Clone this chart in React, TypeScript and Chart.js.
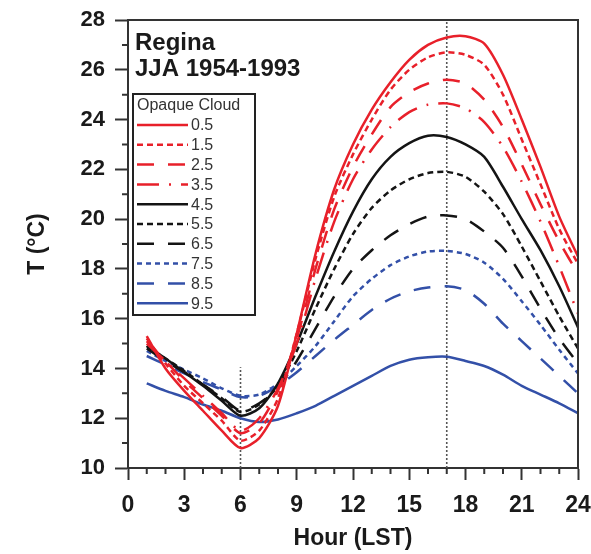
import React, { useEffect, useRef } from "react";
import { Chart, registerables } from "chart.js";

Chart.register(...registerables);

// ---- data ----
const hours = [1, 2, 3, 4, 5, 6, 7, 8, 9, 10, 11, 12, 13, 14, 15, 16, 17, 18, 19, 20, 21, 22, 23, 24];

const cloud05 = [15.3, 14.0, 13.1, 12.3, 11.5, 10.8, 11.2, 12.5, 15.4, 18.6, 21.2, 23.0, 24.4, 25.5, 26.4, 27.0, 27.3, 27.35, 27.05, 25.8, 24.0, 22.1, 20.1, 18.5];
const cloud15 = [15.2, 14.2, 13.3, 12.6, 11.9, 11.1, 11.5, 12.8, 15.4, 18.4, 20.9, 22.6, 24.0, 25.2, 26.0, 26.5, 26.7, 26.6, 26.2, 25.0, 23.2, 21.4, 19.6, 18.2];
const cloud25 = [15.1, 14.3, 13.5, 12.8, 12.1, 11.4, 11.8, 13.1, 15.2, 18.0, 20.4, 22.1, 23.4, 24.5, 25.1, 25.45, 25.6, 25.45, 24.8, 23.7, 22.2, 20.6, 19.1, 17.8];
const cloud35 = [15.0, 14.3, 13.6, 12.9, 12.2, 11.5, 12.0, 13.2, 15.0, 17.6, 19.9, 21.6, 22.8, 23.7, 24.3, 24.6, 24.65, 24.45, 23.9, 22.9, 21.5, 19.9, 18.1, 16.2];
const cloud45 = [14.9, 14.4, 13.85, 13.3, 12.7, 12.1, 12.4, 13.4, 15.0, 16.9, 18.7, 20.3, 21.6, 22.5, 23.05, 23.35, 23.3, 23.0, 22.5, 21.3, 20.0, 18.75, 17.3, 15.65];
const cloud55 = [14.9, 14.4, 13.9, 13.35, 12.8, 12.25, 12.55, 13.3, 14.7, 16.4, 18.0, 19.4, 20.45, 21.15, 21.6, 21.85, 21.9, 21.7, 21.1, 20.2, 18.9, 17.5, 16.1, 14.8];
const cloud65 = [14.8, 14.3, 13.85, 13.35, 12.85, 12.3, 12.6, 13.2, 14.3, 15.6, 16.9, 18.0, 18.75, 19.35, 19.8, 20.1, 20.15, 20.0, 19.5, 18.85, 17.7, 16.4, 15.2, 14.2];
const cloud75 = [14.7, 14.3, 13.95, 13.6, 13.2, 12.9, 12.95, 13.4, 14.1, 14.9, 15.9, 16.9, 17.6, 18.15, 18.5, 18.7, 18.72, 18.6, 18.25, 17.6, 16.7, 15.75, 14.75, 13.8];
const cloud85 = [14.5, 14.15, 13.8, 13.45, 13.15, 12.85, 12.9, 13.3, 13.85, 14.5, 15.15, 15.75, 16.35, 16.8, 17.1, 17.25, 17.3, 17.15, 16.6, 15.8, 15.1, 14.4, 13.7, 13.0];
const cloud95 = [13.4, 13.1, 12.85, 12.55, 12.3, 12.0, 11.85, 11.95, 12.2, 12.5, 12.9, 13.3, 13.7, 14.1, 14.35, 14.45, 14.47, 14.3, 14.1, 13.75, 13.3, 12.95, 12.6, 12.2];

const series = [cloud05, cloud15, cloud25, cloud35, cloud45, cloud55, cloud65, cloud75, cloud85, cloud95];
const seriesLabels = ["0.5", "1.5", "2.5", "3.5", "4.5", "5.5", "6.5", "7.5", "8.5", "9.5"];

const refHours = [6, 17];
const refLow = [10, 10];
const refHigh = [14.05, 28];

const titleLines = ["Regina", "JJA 1954-1993"];
const legendTitle = "Opaque Cloud";
const xTitle = "Hour (LST)";
const yTitle = "T (\u00B0C)";

export default function App() {
  const ref = useRef<HTMLCanvasElement>(null);

  useEffect(() => {
    const canvas = ref.current;
    if (!canvas) return;
    const FONT = "'Liberation Sans', Arial, sans-serif";
    const RED = "#e8202a";
    const BLACK = "#141414";
    const BLUE = "#3350a8";
    const AXIS = "#333333";

    const styles = [
      { color: RED, dash: [] as number[] },
      { color: RED, dash: [6, 4] },
      { color: RED, dash: [17, 14] },
      { color: RED, dash: [22, 10, 2, 10] },
      { color: BLACK, dash: [] as number[] },
      { color: BLACK, dash: [6, 4] },
      { color: BLACK, dash: [17, 14] },
      { color: BLUE, dash: [5, 4] },
      { color: BLUE, dash: [17, 14] },
      { color: BLUE, dash: [] as number[] },
    ];

    const datasets: any[] = series.map((vals, i) => ({
      label: seriesLabels[i],
      data: hours.map((h, j) => ({ x: h, y: vals[j] })),
      borderColor: styles[i].color,
      borderDash: styles[i].dash,
      borderWidth: 2.5,
      pointRadius: 0,
      fill: false,
      tension: 0.25,
    }));

    const refSets: any[] = refHours.map((h, i) => ({
      label: "ref",
      data: [
        { x: h, y: refLow[i] },
        { x: h, y: refHigh[i] },
      ],
      borderColor: "#555555",
      borderDash: [2, 2],
      borderWidth: 1.6,
      pointRadius: 0,
      fill: false,
    }));

    const decor = {
      id: "decor",
      afterDraw(chart: any) {
        const ctx = chart.ctx;
        const { left, right, top, bottom } = chart.chartArea;
        const xs = chart.scales.x;
        const ys = chart.scales.y;
        ctx.save();
        // frame top & right
        ctx.strokeStyle = AXIS;
        ctx.lineWidth = 2;
        ctx.setLineDash([]);
        ctx.beginPath();
        ctx.moveTo(left, top);
        ctx.lineTo(right, top);
        ctx.lineTo(right, bottom);
        ctx.stroke();
        // minor ticks
        ctx.beginPath();
        for (let v = 11; v < 28; v += 2) {
          const y = ys.getPixelForValue(v);
          ctx.moveTo(left - 6, y);
          ctx.lineTo(left, y);
        }
        for (let h = 1; h < 24; h++) {
          if (h % 3 === 0) continue;
          const x = xs.getPixelForValue(h);
          ctx.moveTo(x, bottom);
          ctx.lineTo(x, bottom + 6);
        }
        ctx.stroke();

        // title text
        ctx.fillStyle = "#1a1a1a";
        ctx.font = `bold 24px ${FONT}`;
        ctx.textAlign = "left";
        ctx.textBaseline = "alphabetic";
        ctx.fillText(titleLines[0], left + 7, top + 30);
        ctx.fillText(titleLines[1], left + 7, top + 56);

        // legend box
        const bx = left + 5;
        const by = top + 74;
        const bw = 122;
        const bh = 221;
        ctx.fillStyle = "#ffffff";
        ctx.fillRect(bx, by, bw, bh);
        ctx.strokeStyle = "#222222";
        ctx.lineWidth = 2;
        ctx.strokeRect(bx, by, bw, bh);
        ctx.fillStyle = "#333333";
        ctx.font = `16px ${FONT}`;
        ctx.textBaseline = "middle";
        ctx.fillText(legendTitle, bx + 4, by + 12);
        const items = chart.data.datasets.slice(0, seriesLabels.length);
        items.forEach((ds: any, i: number) => {
          const y = by + 31 + i * 19.8;
          ctx.strokeStyle = ds.borderColor;
          ctx.lineWidth = ds.borderWidth;
          ctx.setLineDash(ds.borderDash || []);
          ctx.beginPath();
          ctx.moveTo(bx + 4, y);
          ctx.lineTo(bx + 55, y);
          ctx.stroke();
          ctx.setLineDash([]);
          ctx.fillStyle = "#333333";
          ctx.fillText(ds.label, bx + 58, y + 1);
        });
        ctx.restore();
      },
    };

    const chart = new Chart(canvas, {
      type: "line",
      data: { datasets: [...datasets, ...refSets] },
      options: {
        animation: false,
        responsive: false,
        maintainAspectRatio: false,
        layout: { padding: { left: 0, right: 13, top: 20, bottom: 0 } },
        plugins: {
          legend: { display: false },
          tooltip: { enabled: false },
          title: { display: false },
        },
        scales: {
          x: {
            type: "linear",
            min: 0,
            max: 24,
            afterFit: (s: any) => {
              s.height = 86;
              s.paddingLeft = 0;
              s.paddingRight = 0;
            },
            ticks: {
              stepSize: 3,
              autoSkip: false,
              maxRotation: 0,
              padding: 12,
              color: "#1a1a1a",
              font: { family: FONT, size: 23, weight: "bold" },
            },
            grid: {
              drawOnChartArea: false,
              drawTicks: true,
              tickLength: 12,
              tickColor: AXIS,
              tickWidth: 2,
            },
            border: { color: AXIS, width: 2 },
            title: {
              display: true,
              text: xTitle,
              color: "#1a1a1a",
              font: { family: FONT, size: 23, weight: "bold" },
              padding: { top: 0, bottom: 2 },
            },
          },
          y: {
            type: "linear",
            min: 10,
            max: 28,
            afterFit: (s: any) => {
              s.width = 128;
              s.paddingTop = 0;
              s.paddingBottom = 0;
            },
            ticks: {
              stepSize: 2,
              autoSkip: false,
              padding: 10,
              color: "#1a1a1a",
              font: { family: FONT, size: 22, weight: "bold" },
            },
            grid: {
              drawOnChartArea: false,
              drawTicks: true,
              tickLength: 13,
              tickColor: AXIS,
              tickWidth: 2,
            },
            border: { color: AXIS, width: 2 },
            title: {
              display: true,
              text: yTitle,
              color: "#1a1a1a",
              font: { family: FONT, size: 23, weight: "bold" },
              padding: { top: 24, bottom: 0 },
            },
          },
        },
      } as any,
      plugins: [decor],
    });

    return () => chart.destroy();
  }, []);

  return (
    <canvas
      ref={ref}
      width={591}
      height={554}
      style={{ position: "absolute", left: 0, top: 0, width: 591, height: 554, display: "block" }}
    />
  );
}
